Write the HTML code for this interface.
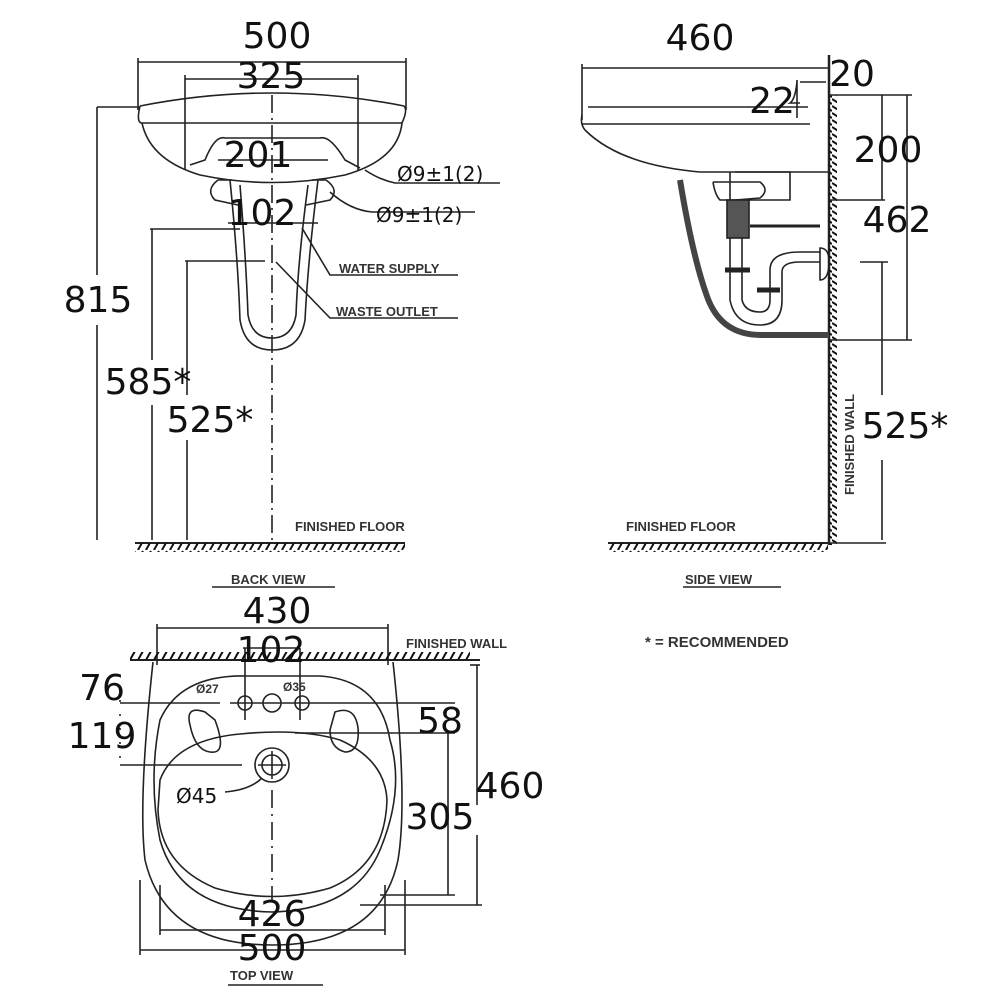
<!DOCTYPE html>
<html><head><meta charset="utf-8"><style>
html,body{margin:0;padding:0;background:#fff}
svg{display:block}
.n{font-family:"DejaVu Sans","Liberation Sans",sans-serif;font-size:36px;fill:#111}
.s{font-family:"Liberation Sans",sans-serif;font-size:13px;font-weight:bold;fill:#333}
.m{font-family:"DejaVu Sans","Liberation Sans",sans-serif;font-size:20px;fill:#111}
</style></head><body>
<svg width="1000" height="1000" viewBox="0 0 1000 1000" xmlns="http://www.w3.org/2000/svg">
<defs>
<pattern id="hh" width="8" height="10" patternUnits="userSpaceOnUse"><line x1="2" y1="10" x2="7" y2="1" stroke="#111" stroke-width="2"/></pattern>
<pattern id="hv" width="8" height="7" patternUnits="userSpaceOnUse"><line x1="0" y1="1" x2="8" y2="6" stroke="#111" stroke-width="2"/></pattern>
</defs>
<g fill="none" stroke="#222" stroke-width="1.6">
<!-- BACK VIEW -->
<line x1="138" y1="62" x2="406" y2="62"/><line x1="138" y1="58" x2="138" y2="110"/><line x1="406" y1="58" x2="406" y2="110"/>
<line x1="185" y1="79" x2="358" y2="79"/><line x1="185" y1="75" x2="185" y2="170"/><line x1="358" y1="75" x2="358" y2="170"/>
<path d="M140 106 Q272 80 404 106"/>
<path d="M140 106 Q136 123 142 123 L402 123 Q408 110 404 106"/>
<path d="M142 123 Q150 160 200 175 Q272 190 345 175 Q398 160 402 123"/>
<path d="M190 165 L205 160 Q215 135 225 138 L320 138 Q330 135 345 160 L360 168"/>
<line x1="218" y1="160" x2="328" y2="160"/>
<path d="M232 180 L218 180 Q205 190 215 200 L238 205"/>
<path d="M312 180 L326 180 Q340 190 330 200 L306 205"/>
<path d="M230 180 Q238 260 240 320 Q245 350 272 350 Q300 350 305 320 Q308 260 318 180"/>
<path d="M240 185 Q246 260 248 315 Q252 338 272 338 Q292 338 296 315 Q298 260 308 185"/>
<line x1="97" y1="107" x2="140" y2="107"/><line x1="97" y1="107" x2="97" y2="275"/><line x1="97" y1="325" x2="97" y2="540"/>
<line x1="150" y1="229" x2="240" y2="229"/><line x1="152" y1="229" x2="152" y2="360"/><line x1="152" y1="405" x2="152" y2="540"/>
<line x1="185" y1="261" x2="265" y2="261"/><line x1="187" y1="261" x2="187" y2="395"/><line x1="187" y1="440" x2="187" y2="540"/>
<line x1="272" y1="95" x2="272" y2="545" stroke-dasharray="18 5 2 5"/>
<line x1="135" y1="543" x2="405" y2="543" stroke-width="2"/>
<rect x="135" y="543" width="270" height="9" fill="url(#hh)" stroke="none"/>
<path d="M365 170 Q380 180 395 183 L500 183"/>
<path d="M330 192 Q350 210 372 212 L475 212"/>
<path d="M302 228 L330 275 L458 275"/>
<path d="M276 262 L330 318 L458 318"/>
<line x1="228" y1="223" x2="318" y2="223"/>
<line x1="212" y1="587" x2="335" y2="587"/>
<!-- SIDE VIEW -->
<line x1="582" y1="68" x2="829" y2="68"/><line x1="582" y1="64" x2="582" y2="120"/>
<line x1="829" y1="55" x2="829" y2="545" stroke-width="2.5"/>
<rect x="829" y="95" width="8" height="450" fill="url(#hv)" stroke="none"/>
<path d="M588 107 L808 107 M582 124 L810 124"/>
<path d="M582 115 Q580 124 585 130 Q620 165 700 172 L829 172"/>
<path d="M735 172 L790 172 L790 200 L720 200 Q715 195 713 182"/>
<path d="M713 182 L760 182 Q770 190 760 198 L735 200"/>
<path d="M680 180 Q693 259 708 299 Q722 335 761 335 L829 335" stroke="#444" stroke-width="6"/>
<rect x="727" y="200" width="22" height="38" fill="#555"/>
<line x1="750" y1="226" x2="820" y2="226" stroke-width="3"/>
<path d="M730 238 L730 300 Q735 325 760 325 Q782 325 782 300 L782 272 Q782 262 800 262 L820 262"/>
<path d="M742 238 L742 300 Q745 312 760 312 Q770 312 770 300 L770 270 Q770 252 800 252 L820 252"/>
<path d="M820 248 Q830 248 829 265 Q828 280 820 280 Z"/>
<line x1="725" y1="270" x2="750" y2="270" stroke-width="5"/><line x1="757" y1="290" x2="780" y2="290" stroke-width="5"/>
<line x1="730" y1="172" x2="730" y2="200"/>
<path d="M800 82 L826 82 M797 82 Q795 100 790 103 L800 103 M797 80 L797 118"/>
<line x1="829" y1="95" x2="912" y2="95"/><line x1="829" y1="200" x2="885" y2="200"/><line x1="829" y1="340" x2="912" y2="340"/>
<line x1="882" y1="95" x2="882" y2="200"/><line x1="907" y1="95" x2="907" y2="340"/>
<line x1="860" y1="262" x2="888" y2="262"/><line x1="882" y1="262" x2="882" y2="395"/><line x1="882" y1="460" x2="882" y2="540"/>
<line x1="608" y1="543" x2="829" y2="543" stroke-width="2"/><line x1="829" y1="543" x2="886" y2="543"/>
<rect x="608" y="543" width="220" height="9" fill="url(#hh)" stroke="none"/>
<line x1="683" y1="587" x2="781" y2="587"/>
<!-- TOP VIEW -->
<line x1="157" y1="628" x2="388" y2="628"/><line x1="157" y1="624" x2="157" y2="665"/><line x1="388" y1="624" x2="388" y2="665"/>
<line x1="243" y1="648" x2="300" y2="648"/><line x1="245" y1="648" x2="245" y2="720"/><line x1="300" y1="648" x2="300" y2="720"/>
<line x1="130" y1="660" x2="480" y2="660" stroke-width="2"/>
<rect x="130" y="652" width="340" height="8" fill="url(#hh)" stroke="none"/>
<path d="M153 662 Q138 800 145 860 Q165 945 272 945 Q380 945 398 860 Q408 800 393 662"/>
<path d="M160 720 Q180 675 245 676 L320 676 Q380 680 390 740 Q405 790 380 850 Q355 910 272 912 Q180 910 160 840 Q148 780 160 720Z"/>
<path d="M160 780 Q175 740 240 734 Q300 728 340 740 Q385 760 387 800 Q385 865 330 888 Q272 905 215 888 Q160 865 158 810 Z"/>
<path d="M205 712 Q185 705 190 725 Q195 750 210 752 Q228 755 215 720 Z"/>
<path d="M335 712 Q355 705 358 728 Q360 752 345 752 Q330 748 330 730 Z"/>
<circle cx="245" cy="703" r="7"/><circle cx="272" cy="703" r="9"/><circle cx="302" cy="703" r="7"/>
<line x1="120" y1="703" x2="220" y2="703"/><line x1="230" y1="703" x2="455" y2="703"/>
<line x1="295" y1="733" x2="455" y2="733"/>
<line x1="120" y1="765" x2="242" y2="765"/>
<circle cx="272" cy="765" r="17"/><circle cx="272" cy="765" r="10"/>
<line x1="258" y1="765" x2="286" y2="765"/><line x1="272" y1="751" x2="272" y2="779"/>
<path d="M262 778 Q250 790 225 792"/>
<line x1="272" y1="790" x2="272" y2="900" stroke-dasharray="18 6 2 6"/>
<line x1="120" y1="700" x2="120" y2="765" stroke-dasharray="2 12"/>
<line x1="448" y1="733" x2="448" y2="895"/><line x1="380" y1="895" x2="455" y2="895"/>
<line x1="477" y1="665" x2="477" y2="805"/><line x1="477" y1="835" x2="477" y2="905"/>
<line x1="480" y1="665" x2="470" y2="665"/><line x1="360" y1="905" x2="482" y2="905"/>
<line x1="160" y1="930" x2="385" y2="930"/><line x1="160" y1="885" x2="160" y2="935"/><line x1="385" y1="885" x2="385" y2="935"/>
<line x1="140" y1="950" x2="405" y2="950"/><line x1="140" y1="880" x2="140" y2="955"/><line x1="405" y1="880" x2="405" y2="955"/>
<line x1="228" y1="985" x2="323" y2="985"/>
</g>
<g class="n" text-anchor="middle">
<text x="277" y="48">500</text><text x="271" y="88">325</text><text x="258" y="167">201</text><text x="262" y="225">102</text>
<text x="98" y="312">815</text><text x="148" y="394">585*</text><text x="210" y="432">525*</text>
<text x="700" y="50">460</text><text x="852" y="86">20</text><text x="772" y="113">22</text>
<text x="888" y="162">200</text><text x="897" y="232">462</text><text x="905" y="438">525*</text>
<text x="277" y="623">430</text><text x="271" y="662">102</text><text x="102" y="700">76</text><text x="102" y="748">119</text>
<text x="440" y="733">58</text><text x="510" y="798">460</text><text x="440" y="829">305</text>
<text x="272" y="926">426</text><text x="272" y="960">500</text>
</g>
<g class="m"><text x="397" y="181">Ø9±1(2)</text><text x="376" y="222">Ø9±1(2)</text><text x="176" y="803">Ø45</text></g>
<g class="s" style="font-size:12px"><text x="196" y="693">Ø27</text><text x="283" y="691">Ø35</text></g>
<g class="s">
<text x="339" y="273">WATER SUPPLY</text><text x="336" y="316">WASTE OUTLET</text>
<text x="295" y="531">FINISHED FLOOR</text><text x="231" y="584">BACK VIEW</text>
<text x="626" y="531">FINISHED FLOOR</text><text x="685" y="584">SIDE VIEW</text>
<text x="645" y="647" style="font-size:15px">* = RECOMMENDED</text>
<text x="406" y="648">FINISHED WALL</text><text x="230" y="980">TOP VIEW</text>
<text transform="translate(854,495) rotate(-90)">FINISHED WALL</text>
</g>
</svg>
</body></html>
